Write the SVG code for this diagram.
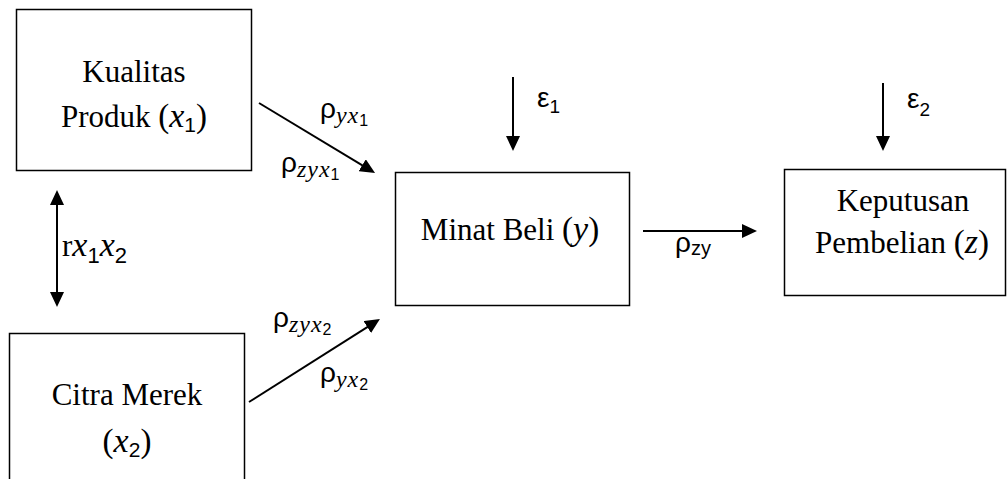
<svg xmlns="http://www.w3.org/2000/svg" width="1008" height="479" viewBox="0 0 1008 479">
  <style>
    .box { fill: #ffffff; stroke: #000000; stroke-width: 1.5; }
    .txt { font-family: "Liberation Serif", "Times New Roman", serif; font-size: 31px; fill: #000000; }
    .mi { font-style: italic; font-size: 34px; }
    .mp { font-size: 33px; }
    .gk { font-family: "Liberation Sans", Arial, sans-serif; fill: #000000; }
    .sub { font-family: "Liberation Serif", "Times New Roman", serif; font-style: italic; letter-spacing: 1px; }
    .num { font-family: "Liberation Sans", Arial, sans-serif; font-style: normal; }
    .edge { stroke: #000000; stroke-width: 2; fill: none; marker-end: url(#ah); }
    .both { marker-start: url(#ah); }
  </style>
  <defs>
    <marker id="ah" viewBox="0 0 15 14" refX="7" refY="7" markerWidth="15" markerHeight="14" markerUnits="userSpaceOnUse" orient="auto-start-reverse">
      <path d="M0,0 L15,7 L0,14 z" fill="#000000"/>
    </marker>
  </defs>

  <rect width="1008" height="479" fill="#ffffff"/>

  <!-- Exogenous variable: product quality -->
  <g id="node-x1">
    <rect class="box" x="16.5" y="9.5" width="235" height="161"/>
    <text class="txt" x="134" y="82" text-anchor="middle">Kualitas</text>
    <text class="txt" x="134" y="127" text-anchor="middle">Produk <tspan class="mp">(</tspan><tspan class="mi">x</tspan><tspan class="num" font-size="21" dy="5">1</tspan><tspan class="mp" dy="-5">)</tspan></text>
  </g>

  <!-- Exogenous variable: brand image -->
  <g id="node-x2">
    <rect class="box" x="9.5" y="333.5" width="235" height="170"/>
    <text class="txt" x="127" y="405" text-anchor="middle">Citra Merek</text>
    <text class="txt" x="127" y="452" text-anchor="middle"><tspan class="mp">(</tspan><tspan class="mi">x</tspan><tspan class="num" font-size="21" dy="5">2</tspan><tspan class="mp" dy="-5">)</tspan></text>
  </g>

  <!-- Intervening variable: purchase interest -->
  <g id="node-y">
    <rect class="box" x="395.5" y="172.5" width="234" height="133"/>
    <text class="txt" x="510" y="240" text-anchor="middle">Minat Beli <tspan class="mp">(</tspan><tspan class="mi">y</tspan><tspan class="mp">)</tspan></text>
  </g>

  <!-- Endogenous variable: purchase decision -->
  <g id="node-z">
    <rect class="box" x="784.5" y="169.5" width="221" height="126"/>
    <text class="txt" x="903" y="211" text-anchor="middle">Keputusan</text>
    <text class="txt" x="902" y="253" text-anchor="middle">Pembelian <tspan class="mp">(</tspan><tspan class="mi">z</tspan><tspan class="mp">)</tspan></text>
  </g>

  <!-- Paths and residual arrows -->
  <g id="connectors">
    <line class="edge both" x1="57" y1="198" x2="57" y2="299"/>
    <line class="edge" x1="259" y1="103" x2="368.2" y2="168.9"/>
    <line class="edge" x1="249" y1="402" x2="373.2" y2="323.3"/>
    <line class="edge" x1="643" y1="231" x2="749" y2="231"/>
    <line class="edge" x1="513" y1="77" x2="513" y2="143"/>
    <line class="edge" x1="883" y1="83" x2="883" y2="143"/>
  </g>

  <!-- Path coefficient labels -->
  <g id="labels">
    <text class="gk" x="320" y="118" font-size="28">ρ<tspan class="sub" font-size="24" dy="5">yx</tspan><tspan class="num" font-size="16" dy="3">1</tspan></text>
    <text class="gk" x="281" y="172" font-size="28">ρ<tspan class="sub" font-size="24" dy="5">zyx</tspan><tspan class="num" font-size="16" dy="3">1</tspan></text>
    <text class="gk" x="273" y="327" font-size="28">ρ<tspan class="sub" font-size="24" dy="5">zyx</tspan><tspan class="num" font-size="16" dy="3">2</tspan></text>
    <text class="gk" x="320" y="382" font-size="28">ρ<tspan class="sub" font-size="24" dy="5">yx</tspan><tspan class="num" font-size="16" dy="3">2</tspan></text>
    <text class="txt" x="62" y="256">r<tspan class="mi">x</tspan><tspan class="num" font-size="22" dy="7">1</tspan><tspan class="mi" dy="-7">x</tspan><tspan class="num" font-size="22" dy="7">2</tspan></text>
    <text class="gk" x="675" y="252" font-size="28">ρ<tspan font-size="20" dy="3">zy</tspan></text>
    <text class="gk" x="537" y="107" font-size="28">ε<tspan font-size="19" dy="6">1</tspan></text>
    <text class="gk" x="907" y="108" font-size="28">ε<tspan font-size="19" dy="8">2</tspan></text>
  </g>
</svg>
